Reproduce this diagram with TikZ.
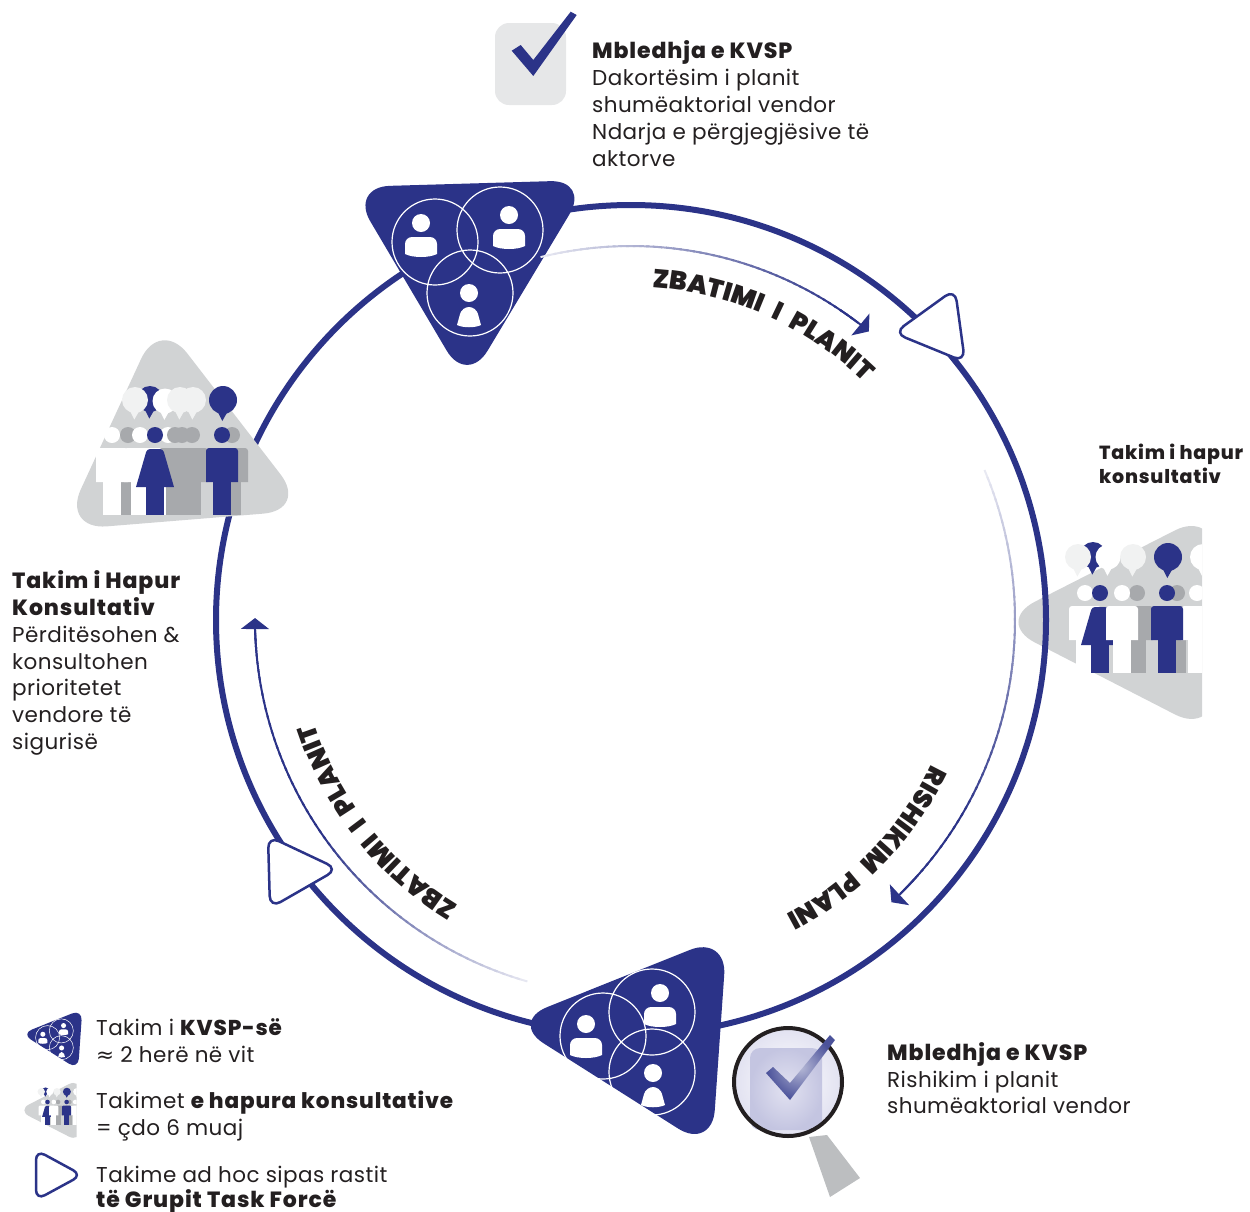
\documentclass[tikz,border=0pt]{standalone}
\usepackage{fontspec}
\setmainfont{Poppins}[LetterSpace=2]
\newfontfamily\symfont{DejaVu Sans}
\IfFontExistsTF{Poppins Black}{\newfontfamily\heavyfont{Poppins Black}}{\newfontfamily\heavyfont{Poppins}[FakeBold=2]}
\IfFontExistsTF{Poppins ExtraBold}{\newfontfamily\xbfont{Poppins ExtraBold}[LetterSpace=4]}{\newfontfamily\xbfont{Poppins}[FakeBold=1.5,LetterSpace=4]}
\usetikzlibrary{decorations.text,arrows.meta}
\definecolor{kblue}{HTML}{2B3388}
\definecolor{kgray}{HTML}{D1D3D4}
\definecolor{kdgray}{HTML}{A7A9AC}
\definecolor{klight}{HTML}{F1F2F2}
\definecolor{ktext}{HTML}{231F20}
\definecolor{kbox}{HTML}{E6E7E8}
\definecolor{klav}{HTML}{C4C5E1}
\definecolor{klavl}{HTML}{E2E2F1}
\definecolor{khandle}{HTML}{BCBEC0}
\def\trc{40pt}\def\brc{7pt}\def\grc{3pt}\def\klw{1.2pt}\def\gy{435}\def\gtrc{45pt}
\newcommand\arclab{\heavyfont\fontsize{26}{26}\selectfont}
\newcommand\wsp{\hbox to 11pt{}}
% white bust for KVSP icons
\newcommand\kbust[3]{%
  \begin{scope}[shift={(#1,#2)}]
  \fill[white] (0,0) circle (9);
  \ifx m#3
    \fill[white] (-16,31) [rounded corners=\brc] -- (-16,14) -- (16,14) [sharp corners] -- (16,31) .. controls (8,35) and (-8,35) .. cycle;
  \else
    \fill[white] (-12,32) [rounded corners=\brc] -- (-7,14) -- (7,14) [sharp corners] -- (12,32) .. controls (6,35) and (-6,35) .. cycle;
  \fi
  \end{scope}}
% figures of the open meetings icon
\newcommand\gman[2]{%
  \begin{scope}[shift={(#2,\gy)}]
  \fill[#1] (0,0) circle (8);
  \fill[#1] (-16,47) [rounded corners=\grc] -- (-16,13) -- (16,13) [sharp corners] -- (16,47) -- cycle;
  \fill[#1] (-9,46) rectangle (9,80);
  \end{scope}}
\newcommand\gwoman[2]{%
  \begin{scope}[shift={(#2,\gy)}]
  \fill[#1] (0,0) circle (8);
  \fill[#1] (-19,52) [rounded corners=\grc] -- (-8,14) -- (8,14) [sharp corners] -- (19,52) -- cycle;
  \fill[#1] (-9,51) rectangle (9,80);
  \end{scope}}
\newcommand\bub[4]{%
  \begin{scope}[shift={(#2,#3)}]
  \fill[#1] (0,0) circle (#4);
  \fill[#1] (-0.45*#4,0.7*#4) -- (0.35*#4,0.8*#4) -- (-0.05*#4,1.5*#4) -- cycle;
  \end{scope}}
\newcommand\kvspTop{%
  \fill[kblue, rounded corners=\trc] (350,187) -- (590,180) -- (467,385) -- cycle;
  \draw[white, line width=\klw] (435,242) circle (43) (500,230) circle (43) (470,293) circle (43);
  \kbust{421}{223}{m}\kbust{509}{215}{m}\kbust{469}{293}{f}}
\newcommand\kvspBot{%
  \fill[kblue, rounded corners=\trc] (510,1022) -- (727,935) -- (712,1150) -- cycle;
  \draw[white, line width=\klw] (603,1036) circle (43) (652,1012) circle (43) (652,1072) circle (43);
  \kbust{586}{1024}{m}\kbust{660}{993}{m}\kbust{653}{1073}{f}}
\newcommand\grpRtri{\fill[kgray, rounded corners=\gtrc] (995,622) -- (1215,510) -- (1215,735) -- cycle;}
\newcommand\grpRfig{%
  \begin{scope}\def\gy{593}
  \bub{kblue}{1093}{555}{13}\bub{klight}{1078}{557}{13}\bub{white}{1108}{557}{12.5}
  \bub{klight}{1133}{557}{13}\bub{kblue}{1168}{557}{14}\bub{white}{1203}{557}{13}
  \gman{kdgray}{1177}\gman{kdgray}{1137}\gman{white}{1197}\gman{white}{1085}
  \gwoman{kblue}{1100}\gman{white}{1122}\gman{kblue}{1167}
  \end{scope}}
\newcommand\grpL{%
  \fill[kgray, rounded corners=\gtrc] (160,318) -- (62,530) -- (308,510) -- cycle;
  \begin{scope}\def\gy{435}
  \bub{kblue}{150}{399}{13}\bub{klight}{135}{400}{13}\bub{white}{165}{401}{12.5}
  \bub{klight}{180}{400}{13}\bub{klight}{193}{400}{13}\bub{kblue}{223}{400}{14}
  \gman{kdgray}{232}\gman{kdgray}{192}\gwoman{kdgray}{182}\gman{white}{168}
  \gman{kdgray}{175}\gman{kdgray}{128}\gman{white}{140}\gman{white}{112}
  \gwoman{kblue}{155}\gman{kblue}{222}
  \end{scope}}
% fading arc: radius, start (light), end (dark), fraction where full, segments
\newcommand\fadearc[5]{%
  \foreach \k in {1,...,#5}{%
    \pgfmathsetmacro\aa{#2+(#3-#2)*(\k-1)/#5}%
    \pgfmathsetmacro\ab{#2+(#3-#2)*(\k+0.4)/#5}%
    \pgfmathtruncatemacro\pc{min(100,10+90*(\k/#5)/#4)}%
    \draw[line width=2pt, draw=kblue!\pc!white] (631,620) ++(\aa:#1) arc[start angle=\aa, end angle=\ab, radius=#1];
  }}
\tikzset{
  body/.style={font=\fontsize{21.5}{27}\selectfont, text=ktext, inner sep=0pt, anchor=base west},
  hd/.style={font=\fontsize{22}{27}\selectfont\xbfont, text=ktext, inner sep=0pt, anchor=base west},
  small/.style={font=\fontsize{19}{24}\selectfont\xbfont, text=ktext, inner sep=0pt, anchor=base west},
  outtri/.style={fill=white, draw=kblue, line width=2.5pt, rounded corners=12pt},
  tip/.style={-{Triangle[length=11pt,width=28pt]}, kblue, line width=2pt},
  arctext/.style={decorate, decoration={text along path, text align=center, text color=ktext}}
}
\begin{document}
\begin{tikzpicture}[x=1pt,y=-1pt]
\useasboundingbox (0,0) rectangle (1250,1211);
% right open-meeting icon background
\begin{scope}\clip (0,0) rectangle (1202,1211); \grpRtri \end{scope}
% main cycle
\draw[kblue, line width=6pt] (631,620) circle (415);
\begin{scope}\clip (0,0) rectangle (1202,1211); \grpRfig \end{scope}
% left open-meeting icon
\grpL
% KVSP meetings
\kvspTop
\kvspBot
% ad hoc task force markers
\draw[outtri] (894,333) -- (955,289) -- (965,362) -- cycle;
\draw[outtri] (268,836) -- (338,869) -- (270,908) -- cycle;
% inner arrows
\fadearc{374}{-104}{-53}{0.95}{50}
\draw[tip] (631,620) ++(-56:374) arc[start angle=-56, end angle=-50.5, radius=374];
\fadearc{384}{-23}{45}{0.8}{60}
\draw[tip] (631,620) ++(42:384) arc[start angle=42, end angle=47.3, radius=384];
\fadearc{376}{106}{178}{0.55}{60}
\draw[tip] (631,620) ++(175:376) arc[start angle=175, end angle=180.3, radius=376];
% arc labels
\path[arctext, decoration={text={|\arclab|ZBATIMI{\wsp}I{\wsp}PLANIT}}] (631,620) ++(-106:333) arc[start angle=-106, end angle=-26, radius=333];
\path[arctext, decoration={text={|\arclab|RISHIKIM{\wsp}PLANI}}] (631,620) ++(4:333) arc[start angle=4, end angle=84, radius=333];
\path[arctext, decoration={text={|\arclab|ZBATIMI{\wsp}I{\wsp}PLANIT}}] (631,620) ++(101.5:333) arc[start angle=101.5, end angle=181.5, radius=333];
% checkbox
\fill[kbox, rounded corners=14pt] (495,23) rectangle (566,105);
\fill[kblue] (511.7,50.7) -- (520.7,45) -- (533.3,60) -- (570.7,11.7) -- (576.7,15) -- (533.3,76) -- cycle;
% magnifier
\fill[khandle] (809,1137) -- (827,1135) -- (860,1178) -- (830,1197) -- cycle;
\shade[inner color=white, outer color=klavl] (788,1082) circle (53);
\shade[rounded corners=10pt, inner color=klavl, outer color=klav] (750,1048) rectangle (822,1130);
\draw[ktext, line width=4pt] (788,1082) circle (54);
\shade[inner color=kblue!35!white, outer color=kblue!85!white] (766,1073) -- (773,1067) -- (790,1083) -- (830,1035) -- (835,1040) -- (790,1100) -- cycle;
% texts top
\node[hd] (a1) at (592,58) {Mbledhja e KVSP};
\node[body] (a2) at (592,85) {Dakortësim i planit};
\node[body] (a3) at (592,112) {shumëaktorial vendor};
\node[body] (a4) at (592,139) {Ndarja e përgjegjësive të};
\node[body] (a5) at (592,166) {aktorve};
% right
\node[small] (b1) at (1099,459) {Takim i hapur};
\node[small] (b2) at (1099,483) {konsultativ};
% left
\node[hd] (c1) at (12,588) {Takim i Hapur};
\node[hd] (c2) at (12,615) {Konsultativ};
\node[body] (c3) at (12,642) {Përditësohen \&};
\node[body] (c4) at (12,669) {konsultohen};
\node[body] (c5) at (12,695) {prioritetet};
\node[body] (c6) at (12,722) {vendore të};
\node[body] (c7) at (12,749) {sigurisë};
% bottom right
\node[hd] (d1) at (887,1060) {Mbledhja e KVSP};
\node[body] (d2) at (887,1087) {Rishikim i planit};
\node[body] (d3) at (887,1113) {shumëaktorial vendor};
% legend
\begin{scope}[shift={(52.5,1038.3)}, scale=0.28, shift={(-620.5,-1038.5)}]
  \def\trc{11pt}\def\brc{2pt}\def\klw{0.5pt}
  \kvspBot
\end{scope}
\begin{scope}[shift={(50.8,1110.8)}, scale=0.285, shift={(-1111.5,-624)}]
  \def\grc{1pt}\def\gtrc{13pt}
  \clip (990,500) rectangle (1202,750);
  \grpRtri \grpRfig
\end{scope}
\draw[outtri, rounded corners=10pt] (36,1150) -- (82,1175) -- (36,1200) -- cycle;
\node[body] (e1) at (96,1035) {Takim i {\xbfont KVSP-së}};
\node[body] (e2) at (96,1062) {{\symfont ≈} 2 herë në vit};
\node[body] (e3) at (96,1108) {Takimet {\xbfont e hapura konsultative}};
\node[body] (e4) at (96,1135) {= çdo 6 muaj};
\node[body] (e5) at (96,1182) {Takime ad hoc sipas rastit};
\node[hd] (e6) at (96,1207) {të Grupit Task Forcë};
\end{tikzpicture}
\end{document}
